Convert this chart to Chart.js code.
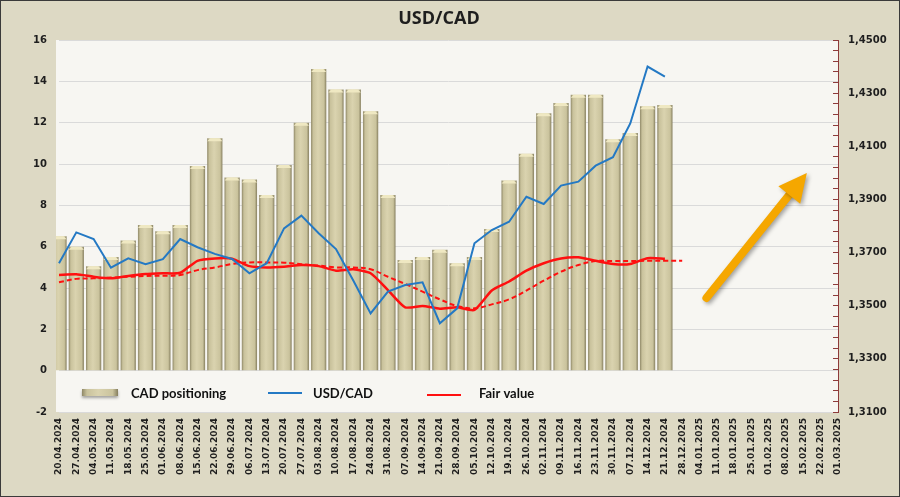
<!DOCTYPE html>
<html>
<head>
<meta charset="utf-8">
<script src="https://cdn.jsdelivr.net/npm/chart.js@4.4.1/dist/chart.umd.min.js"></script>
<style>
  html, body { margin: 0; padding: 0; background: #DDD9C4; }
  #wrap { width: 900px; height: 497px; }
</style>
</head>
<body>
<div id="wrap"><canvas id="myChart" width="900" height="497"></canvas></div>
<script>
const labels = ['20.04.2024','27.04.2024','04.05.2024','11.05.2024','18.05.2024','25.05.2024','01.06.2024','08.06.2024',
  '15.06.2024','22.06.2024','29.06.2024','06.07.2024','13.07.2024','20.07.2024','27.07.2024','03.08.2024','10.08.2024',
  '17.08.2024','24.08.2024','31.08.2024','07.09.2024','14.09.2024','21.09.2024','28.09.2024','05.10.2024','12.10.2024',
  '19.10.2024','26.10.2024','02.11.2024','09.11.2024','16.11.2024','23.11.2024','30.11.2024','07.12.2024','14.12.2024',
  '21.12.2024','28.12.2024','04.01.2025','11.01.2025','18.01.2025','25.01.2025','01.02.2025','08.02.2025','15.02.2025',
  '22.02.2025','01.03.2025'];

// CAD positioning (left axis)
const positioning = [6.5, 6.0, 5.05, 5.5, 6.3, 7.05, 6.75, 7.05, 9.9, 11.25, 9.35, 9.25, 8.5, 9.95, 12.0, 14.6, 13.6,
  13.6, 12.55, 8.5, 5.35, 5.5, 5.85, 5.2, 5.5, 6.85, 9.2, 10.5, 12.45, 12.95, 13.35, 13.35, 11.2, 11.5, 12.8, 12.85];

// USD/CAD rate (right axis)
const usdcad = [1.3660, 1.3776, 1.3751, 1.3643, 1.3678, 1.3656, 1.3675, 1.3751, 1.3720, 1.3695, 1.3676, 1.3622,
  1.3660, 1.3791, 1.3839, 1.3773, 1.3713, 1.3595, 1.3471, 1.3553, 1.3578, 1.3588, 1.3434, 1.3490, 1.3735, 1.3785,
  1.3816, 1.3910, 1.3883, 1.3952, 1.3967, 1.4027, 1.4059, 1.4186, 1.4400, 1.4362];

// fair value (right axis)
const fairValue = [1.3616, 1.3618, 1.3609, 1.3603, 1.3612, 1.3619, 1.3622, 1.3624, 1.3669, 1.3678, 1.3677, 1.3649,
  1.3644, 1.3647, 1.3653, 1.3649, 1.3632, 1.3637, 1.3622, 1.3559, 1.3494, 1.3499, 1.3489, 1.3494, 1.3484, 1.3557,
  1.3591, 1.3632, 1.3660, 1.3678, 1.3682, 1.3669, 1.3657, 1.3657, 1.3679, 1.3677];

// smoothed fair value, dashed
const fairTrend = [1.3588, 1.3601, 1.3603, 1.3606, 1.3609, 1.3612, 1.3613, 1.3616, 1.3634, 1.3644, 1.3657, 1.3663,
  1.3663, 1.3662, 1.3656, 1.3651, 1.3644, 1.3644, 1.3637, 1.3609, 1.3582, 1.3553, 1.3524, 1.3499, 1.3490, 1.3505,
  1.3524, 1.3557, 1.3594, 1.3628, 1.3653, 1.3668, 1.3668, 1.3668, 1.3669, 1.3669, 1.3669];

const BLUE = '#2479C4';
const RED = '#FF1010';
const AXIS_RED = '#8E3B3B';
const TICK_FONT = { family: 'DejaVu Sans', size: 10, weight: 'bold' };
const BAR_IDX = 3;

function barGradient(c, l, r) {
  const g = c.createLinearGradient(l, 0, r, 0);
  g.addColorStop(0, '#8F8867');
  g.addColorStop(0.14, '#C9C29C');
  g.addColorStop(0.45, '#DAD3AF');
  g.addColorStop(0.85, '#CAC39D');
  g.addColorStop(1, '#857E5E');
  return g;
}

const decor = {
  id: 'decor',
  beforeDraw(chart) {
    const c = chart.ctx, a = chart.chartArea;
    c.save();
    c.fillStyle = '#DDD9C4';
    c.fillRect(0, 0, chart.width, chart.height);
    c.strokeStyle = '#3A3A3A';
    c.lineWidth = 1;
    c.strokeRect(0.5, 0.5, chart.width - 1, chart.height - 1);
    c.fillStyle = '#F7F6F2';
    c.fillRect(a.left - 3, a.top, a.right - a.left + 3, a.bottom - a.top);
    c.restore();
  },
  beforeDatasetsDraw(chart) {
    const c = chart.ctx;
    chart.getDatasetMeta(BAR_IDX).data.forEach(el => {
      const l = el.x - el.width / 2, r = el.x + el.width / 2;
      el.options = Object.assign({}, el.options, { backgroundColor: barGradient(c, l, r) });
    });
  },
  afterDatasetDraw(chart, args) {
    if (args.index !== BAR_IDX) return;
    const c = chart.ctx, a = chart.chartArea;
    c.save();
    c.beginPath();
    c.rect(a.left - 3, a.top, a.right - a.left + 3, a.bottom - a.top);
    c.clip();
    args.meta.data.forEach(el => {
      const l = el.x - el.width / 2, r = el.x + el.width / 2, t = el.y;
      c.fillStyle = '#EFE8C2';
      c.beginPath();
      c.moveTo(l, t + 3);
      c.lineTo(l + 3, t);
      c.lineTo(r - 3, t);
      c.lineTo(r, t + 3);
      c.closePath();
      c.fill();
    });
    c.restore();
  },
  afterDatasetsDraw(chart) {
    const c = chart.ctx;
    const x = chart.scales.x, y = chart.scales.y;
    // orange arrow
    const x1 = x.getPixelForValue(37.4), y1 = y.getPixelForValue(3.52);
    const x2 = x.getPixelForValue(43.2), y2 = y.getPixelForValue(9.56);
    const ang = Math.atan2(y2 - y1, x2 - x1);
    const headLen = 28, headW = 14;
    const bx = x2 - headLen * Math.cos(ang), by = y2 - headLen * Math.sin(ang);
    c.save();
    c.shadowColor = 'rgba(0,0,0,0.35)';
    c.shadowBlur = 4;
    c.shadowOffsetX = 2;
    c.shadowOffsetY = 2;
    c.strokeStyle = '#F5A700';
    c.fillStyle = '#F5A700';
    c.lineWidth = 8;
    c.lineCap = 'round';
    c.beginPath();
    c.moveTo(x1, y1);
    c.lineTo(bx + 2 * Math.cos(ang), by + 2 * Math.sin(ang));
    c.stroke();
    c.beginPath();
    c.moveTo(x2, y2);
    c.lineTo(bx + headW * Math.sin(ang), by - headW * Math.cos(ang));
    c.lineTo(bx - headW * Math.sin(ang), by + headW * Math.cos(ang));
    c.closePath();
    c.fill();
    c.restore();

    // legend inside the plot
    const ly = 393;
    const ds = chart.data.datasets;
    c.save();
    c.font = 'bold 13px Lato';
    c.fillStyle = '#111';
    c.textBaseline = 'middle';
    c.save();
    c.shadowColor = 'rgba(0,0,0,0.35)';
    c.shadowBlur = 3;
    c.shadowOffsetY = 2;
    c.fillStyle = barGradient(c, 82, 118);
    c.fillRect(82, ly - 4, 36, 7);
    c.restore();
    c.fillText(ds[BAR_IDX].label, 131, ly + 1);
    c.lineWidth = 2;
    c.strokeStyle = ds[0].borderColor;
    c.beginPath(); c.moveTo(268, ly); c.lineTo(302, ly); c.stroke();
    c.fillText(ds[0].label, 313, ly + 1);
    c.strokeStyle = ds[1].borderColor;
    c.beginPath(); c.moveTo(427, ly + 2); c.lineTo(461, ly + 2); c.stroke();
    c.fillText(ds[1].label, 479, ly + 1);
    c.restore();
  },
  afterDraw(chart) {
    const c = chart.ctx;
    c.save();
    c.font = 'bold 18px "Open Sans"';
    c.fillStyle = '#1E1E1E';
    c.textAlign = 'center';
    c.textBaseline = 'middle';
    c.fillText('USD/CAD', 439, 19);
    c.restore();
  }
};

const ctx = document.getElementById('myChart').getContext('2d');
new Chart(ctx, {
  type: 'bar',
  plugins: [decor],
  data: {
    labels: labels,
    datasets: [{
      type: 'line',
      label: 'USD/CAD',
      data: usdcad,
      yAxisID: 'y1',
      borderColor: BLUE,
      borderWidth: 2,
      pointRadius: 0,
      tension: 0,
      order: 1,
      clip: { left: 3, top: 0, right: 0, bottom: 0 },
    }, {
      type: 'line',
      label: 'Fair value',
      data: fairValue,
      yAxisID: 'y1',
      borderColor: RED,
      borderWidth: 2.5,
      pointRadius: 0,
      tension: 0.2,
      order: 2,
    }, {
      type: 'line',
      label: 'Fair value trend',
      data: fairTrend,
      yAxisID: 'y1',
      borderColor: RED,
      borderWidth: 2,
      borderDash: [5, 3],
      pointRadius: 0,
      tension: 0.4,
      order: 3,
    }, {
      type: 'bar',
      label: 'CAD positioning',
      data: positioning,
      yAxisID: 'y',
      backgroundColor: '#D3CCA7',
      borderWidth: 0,
      barPercentage: 0.88,
      categoryPercentage: 1,
      order: 4,
      clip: { left: 3, top: 0, right: 0, bottom: 0 },
    }],
  },
  options: {
    responsive: false,
    animation: false,
    layout: { padding: { top: 40 } },
    plugins: {
      legend: { display: false },
      title: { display: false },
      tooltip: { enabled: false },
    },
    scales: {
      x: {
        offset: false,
        grid: { display: false, drawTicks: false },
        border: { display: false },
        ticks: {
          autoSkip: false, minRotation: 90, maxRotation: 90, padding: 6,
          color: '#1E1E1E', font: { family: 'DejaVu Sans', size: 9, weight: 'bold' },
        },
        afterFit(s) { s.height = 85; },
      },
      y: {
        position: 'left',
        min: -2,
        max: 16,
        ticks: { stepSize: 2, padding: 12, color: '#1E1E1E', font: TICK_FONT },
        grid: { color: '#DADADA', drawTicks: false },
        border: { display: false },
        afterFit(s) { s.width = 59; },
      },
      y1: {
        position: 'right',
        min: 1.31,
        max: 1.45,
        ticks: {
          count: 36, precision: 3, autoSkip: false, padding: 15, color: '#1E1E1E', font: TICK_FONT,
          callback: (v, i) => i % 5 === 0 ? v.toFixed(4).replace('.', ',') : '',
        },
        grid: { drawOnChartArea: false, color: AXIS_RED, tickLength: -5 },
        border: { color: AXIS_RED },
        afterFit(s) { s.width = 62; },
      },
    },
  },
});
</script>
</body>
</html>
